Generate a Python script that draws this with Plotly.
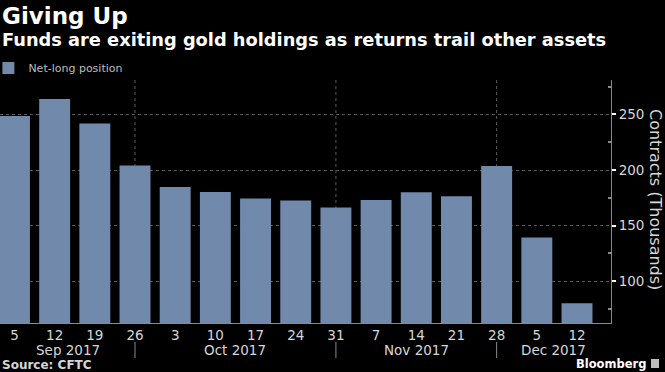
import plotly.graph_objects as go

# ---- data ----
week_dates = ["2017-09-05", "2017-09-12", "2017-09-19", "2017-09-26",
              "2017-10-03", "2017-10-10", "2017-10-17", "2017-10-24", "2017-10-31",
              "2017-11-07", "2017-11-14", "2017-11-21", "2017-11-28",
              "2017-12-05", "2017-12-12"]
day_labels = ["5", "12", "19", "26", "3", "10", "17", "24", "31",
              "7", "14", "21", "28", "5", "12"]
month_labels = ["Sep 2017", "Oct 2017", "Nov 2017", "Dec 2017"]
net_long = [248.7, 263.8, 241.9, 204.1, 184.8, 180.3, 174.4, 172.6, 166.3,
            173.1, 180.1, 176.5, 203.7, 139.3, 80.2]
y_ticks = [100, 150, 200, 250]
y_minor_ticks = [75, 125, 175, 225, 275]

BAR = "#7189AA"
BG = "#000000"
TXT = "#d6d6d6"
FONT = "DejaVu Sans, sans-serif"

n = len(week_dates)
idx = list(range(n))
x_min, x_max = -0.36, n - 1 + 0.846

# index of the last week in each month (month separators)
months = [d[:7] for d in week_dates]
month_ends = [i for i in range(n - 1) if months[i] != months[i + 1]]
bounds = [x_min] + month_ends + [x_max]
month_centers = [(bounds[i] + bounds[i + 1]) / 2 for i in range(len(bounds) - 1)]

fig = go.Figure()
fig.add_trace(go.Bar(
    x=idx, y=net_long, name="Net-long position",
    marker=dict(color=BAR, line=dict(width=0)),
    width=0.77,
))

# plot area: left=0, right=611px, top=80px, bottom=323px
def py(ypx):
    return (323 - ypx) / 243

def px(xpx):
    return xpx / 611

shapes = []
for m in month_ends:
    shapes.append(dict(type="line", xref="x", yref="paper", x0=m, x1=m, y0=0, y1=1,
                       line=dict(color="#5a5a5a", width=1, dash="dot"), layer="below"))
    shapes.append(dict(type="line", xref="x", yref="paper", x0=m, x1=m,
                       y0=py(342), y1=py(358),
                       line=dict(color="#8a8a8a", width=1)))
# small Bloomberg logo box
shapes.append(dict(type="rect", xref="paper", yref="paper",
                   x0=px(651), x1=px(659), y0=py(368), y1=py(359),
                   fillcolor="#bdbdbd", line=dict(width=0)))

annotations = [
    dict(text="<b>Giving Up</b>", xref="paper", yref="paper", x=0, y=py(16),
         xanchor="left", yanchor="middle", showarrow=False,
         font=dict(family=FONT, size=23, color="#ffffff")),
    dict(text="<b>Funds are exiting gold holdings as returns trail other assets</b>",
         xref="paper", yref="paper", x=0, y=py(39), xanchor="left", yanchor="middle",
         showarrow=False, font=dict(family=FONT, size=17.8, color="#ffffff")),
    dict(text="Contracts (Thousands)", xref="paper", yref="paper", x=1, xshift=45,
         y=py(199), xanchor="center", yanchor="middle", textangle=90, showarrow=False,
         font=dict(family=FONT, size=16, color=TXT)),
    dict(text="<b>Source: CFTC</b>", xref="paper", yref="paper", x=0, y=py(365),
         xanchor="left", yanchor="middle", showarrow=False,
         font=dict(family=FONT, size=12, color=TXT)),
    dict(text="<b>Bloomberg</b>", xref="paper", yref="paper", x=1, xshift=37, y=py(364),
         xanchor="right", yanchor="middle", showarrow=False,
         font=dict(family=FONT, size=11.5, color="#ffffff")),
]
for lab, c in zip(month_labels, month_centers):
    annotations.append(dict(text=lab, xref="x", yref="paper", x=c, y=py(349.5),
                            xanchor="center", yanchor="middle", showarrow=False,
                            font=dict(family=FONT, size=13.5, color=TXT)))

fig.update_layout(
    width=665, height=372,
    margin=dict(l=0, r=54, t=80, b=49, pad=0, autoexpand=False),
    paper_bgcolor=BG, plot_bgcolor=BG,
    bargap=0.23,
    showlegend=True,
    legend=dict(x=-0.019, y=py(68), xanchor="left", yanchor="middle",
                orientation="h", bgcolor="rgba(0,0,0,0)",
                font=dict(family=FONT, size=11, color="#bdbdbd")),
    shapes=shapes,
    annotations=annotations,
    xaxis=dict(
        range=[x_min, x_max], tickmode="array", tickvals=idx, ticktext=day_labels,
        showgrid=False, zeroline=False, showline=True, linecolor="#8a8a8a", linewidth=1,
        ticks="", tickfont=dict(family=FONT, size=13.5, color=TXT), automargin=False,
    ),
    yaxis=dict(
        side="right", range=[62.4, 281], tickmode="array", tickvals=y_ticks,
        showgrid=True, gridcolor="#5a5a5a", griddash="dot", gridwidth=1,
        zeroline=False, showline=True, linecolor="#8a8a8a", linewidth=1,
        ticks="outside", ticklen=4, tickwidth=2, tickcolor="#ffffff",
        tickfont=dict(family=FONT, size=13.5, color=TXT), automargin=False,
        minor=dict(tickvals=y_minor_ticks, ticks="inside", ticklen=3,
                   tickcolor="#8a8a8a", showgrid=False),
    ),
    font=dict(family=FONT),
)

fig.write_html("out.html", config={"displayModeBar": False},
               post_script="document.body.style.margin='0';document.body.style.overflow='hidden';")
